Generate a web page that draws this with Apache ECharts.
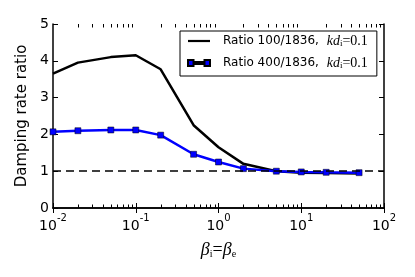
<!DOCTYPE html>
<html>
<head>
<meta charset="utf-8">
<script src="https://cdn.jsdelivr.net/npm/echarts@6/dist/echarts.min.js"></script>
<style>html,body{margin:0;padding:0;background:#fff}#c{width:415px;height:277px}</style>
</head>
<body>
<div id="c"></div>
<script>
const beta = [0.01, 0.02, 0.05, 0.1, 0.2, 0.5, 1, 2, 5, 10, 20, 50];
const ratio100 = [3.65, 3.95, 4.1, 4.15, 3.77, 2.25, 1.65, 1.2, 1.0, 0.96, 0.95, 0.94];
const ratio400 = [2.07, 2.1, 2.12, 2.12, 1.98, 1.46, 1.25, 1.07, 1.0, 0.98, 0.97, 0.96];
const yTicks = [0, 1, 2, 3, 4, 5];
const minorTicks = [0.02,0.03,0.04,0.05,0.06,0.07,0.08,0.09,
  0.2,0.3,0.4,0.5,0.6,0.7,0.8,0.9,
  2,3,4,5,6,7,8,9,
  20,30,40,50,60,70,80,90];
const names = ['Ratio 100/1836', 'Ratio 400/1836'];

const chart = echarts.init(document.getElementById('c'));
const sans = 'DejaVu Sans';
const serif = 'Liberation Serif';
function pairs(xs, ys){ return xs.map((x,i)=>[x, ys[i]]); }
const supLabel = v => { const e = Math.round(Math.log10(v)); return '{b|10}{s|' + e + '}'; };

chart.setOption({
  animation: false,
  grid: {left: 53, right: 31, top: 24, bottom: 69},
  legend: {
    orient: 'vertical', left: 180, top: 31,
    padding: [3, 9, 6, 7],
    itemGap: 8, itemWidth: 22, itemHeight: 7,
    borderColor: '#000', borderWidth: 1, backgroundColor: '#fff',
    data: [
      {name: names[0], icon: 'path://M0,0L0,0M0,2.4L22,2.4L22,4.6L0,4.6ZM22,7L22,7'},
      {name: names[1], icon: 'path://M0,0.5L5.5,0.5L5.5,2.4L16.5,2.4L16.5,0.5L22,0.5L22,6.5L16.5,6.5L16.5,4.6L5.5,4.6L5.5,6.5L0,6.5ZM0,0L0,0M22,7L22,7'}
    ],
    formatter: n => '{t|' + n + ', }{it|kd}{sb|i}{n|=0.1}',
    textStyle: {
      color: '#000',
      rich: {
        t: {fontFamily: sans, fontSize: 12, padding: [0,0,0,8], color: '#000'},
        it: {fontFamily: serif, fontStyle: 'italic', fontSize: 14, padding: [0,0,0,4], color: '#000'},
        sb: {fontFamily: serif, fontSize: 9, padding: [5,0,0,0], color: '#000'},
        n: {fontFamily: serif, fontSize: 14, color: '#000'}
      }
    }
  },
  xAxis: [{
    type: 'log', logBase: 10, min: 0.01, max: 100,
    axisLine: {show: true, lineStyle: {color: '#000', width: 1.5}},
    axisTick: {show: true, inside: true, length: 5, lineStyle: {color: '#000', width: 1}},
    splitLine: {show: false},
    axisLabel: {
      margin: 5, formatter: supLabel, color: '#000',
      fontFamily: sans, fontSize: 14,
      rich: {
        b: {fontFamily: sans, fontSize: 14, lineHeight: 20, verticalAlign: 'bottom', color: '#000'},
        s: {fontFamily: sans, fontSize: 10, lineHeight: 20, verticalAlign: 'top', color: '#000'}
      }
    },
    name: '{b|β}{s|i}{e|=}{b|β}{s|e}',
    nameLocation: 'middle', nameGap: 33,
    nameTextStyle: {
      rich: {
        b: {fontFamily: serif, fontStyle: 'italic', fontSize: 18, color: '#000'},
        s: {fontFamily: serif, fontSize: 10, padding: [8,0,0,0], color: '#000'},
        e: {fontFamily: serif, fontSize: 18, color: '#000'}
      }
    }
  }, {
    type: 'log', logBase: 10, min: 0.01, max: 100, position: 'top',
    axisLine: {show: true, lineStyle: {color: '#000', width: 1.5}},
    axisTick: {show: true, inside: true, length: 5, lineStyle: {color: '#000', width: 1}},
    axisLabel: {show: false}, splitLine: {show: false}
  }],
  yAxis: [{
    type: 'value', min: 0, max: 5, interval: 1,
    axisLine: {show: true, lineStyle: {color: '#000', width: 1.5}},
    axisTick: {show: true, inside: true, length: 5, lineStyle: {color: '#000', width: 1}},
    splitLine: {show: false},
    axisLabel: {margin: 4, color: '#000', fontFamily: sans, fontSize: 14,
      formatter: v => yTicks.includes(v) ? String(v) : ''},
    name: 'Damping rate ratio', nameLocation: 'middle', nameGap: 21,
    nameTextStyle: {fontFamily: sans, fontSize: 15, color: '#000'}
  }, {
    type: 'value', min: 0, max: 5, interval: 1, position: 'right',
    axisLine: {show: true, lineStyle: {color: '#000', width: 1.5}},
    axisTick: {show: true, inside: true, length: 5, lineStyle: {color: '#000', width: 1}},
    axisLabel: {show: false}, splitLine: {show: false}
  }],
  series: [
    {
      name: names[0], type: 'line', data: pairs(beta, ratio100),
      symbol: 'none', color: '#000',
      lineStyle: {color: '#000', width: 2.5}
    },
    {
      name: names[1], type: 'line', data: pairs(beta, ratio400),
      symbol: 'rect', symbolSize: 6, color: '#0000ff',
      itemStyle: {color: '#0000ff', borderColor: '#000', borderWidth: 0.5},
      lineStyle: {color: '#0000ff', width: 2.5},
      markLine: {
        silent: true, symbol: 'none', label: {show: false}, z: 10,
        lineStyle: {color: '#000', width: 1.5, type: [8, 5]},
        data: [{yAxis: 1}]
      }
    }
  ]
});

// minor ticks on the log x axis, positioned through the chart's own scale
const yBottom = chart.convertToPixel({yAxisIndex: 0}, yTicks[0]);
const yTop = chart.convertToPixel({yAxisIndex: 0}, yTicks[yTicks.length - 1]);
const minorEls = [];
minorTicks.forEach(v => {
  const x = Math.round(chart.convertToPixel({xAxisIndex: 0}, v)) + 0.5;
  minorEls.push({type: 'line', silent: true, z: 50,
    shape: {x1: x, y1: yBottom, x2: x, y2: yBottom - 3.5}, style: {stroke: '#000', lineWidth: 1}});
  minorEls.push({type: 'line', silent: true, z: 50,
    shape: {x1: x, y1: yTop, x2: x, y2: yTop + 3.5}, style: {stroke: '#000', lineWidth: 1}});
});
chart.setOption({graphic: minorEls});
</script>
</body>
</html>
